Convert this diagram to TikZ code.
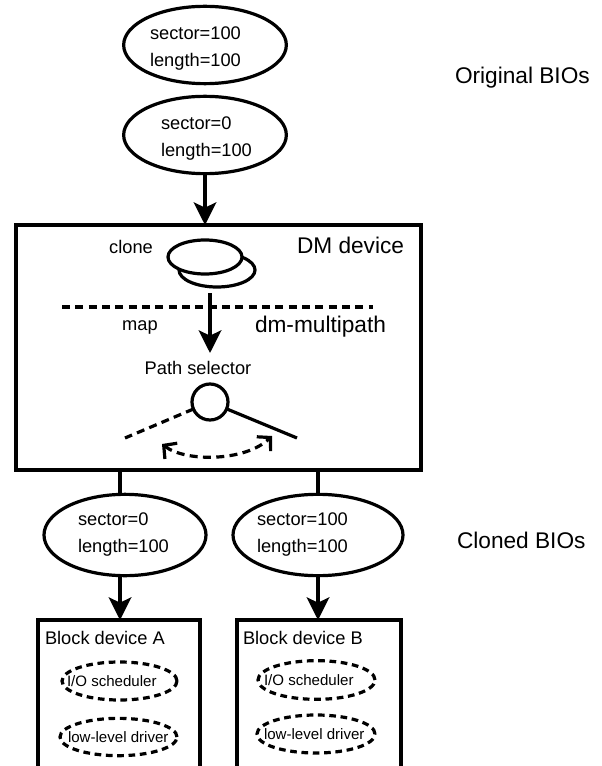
\documentclass[tikz,border=0pt]{standalone}
\usepackage{fontspec}
\setmainfont{Liberation Sans}
\usetikzlibrary{arrows.meta,shapes.geometric}
\begin{document}
\begin{tikzpicture}[x=0.75pt,y=-0.75pt,
  every node/.style={inner sep=0pt, outer sep=0pt},
  thick2/.style={line width=2.4pt},
  bio/.style={draw, thick2, ellipse},
  txt/.style={font=\fontsize{13.7}{20.25}\selectfont, align=left},
  bigtxt/.style={font=\fontsize{17}{20}\selectfont},
  smalltxt/.style={font=\fontsize{11.3}{13}\selectfont},
  arr/.style={thick2, -{Stealth[length=17pt, width=17pt, inset=4pt]}},
  dline/.style={thick2, dash pattern=on 6pt off 4pt},
  dell/.style={draw, ellipse, thick2, dash pattern=on 5pt off 3.5pt},
  box/.style={draw, thick2, rectangle},
  barb/.style={thick2, dash pattern=on 6pt off 4pt, {Straight Barb[length=7pt, width=15pt]}-{Straight Barb[length=7pt, width=15pt]}}
]
\useasboundingbox (0,0) rectangle (602,766);

% original BIOs
\node[bio, minimum width=122pt, minimum height=58pt] (o1) at (205,45) {};
\node[txt, anchor=west] (o1t) at (150,49) {sector=100\\length=100};
\node[bio, minimum width=122pt, minimum height=58pt] (o2) at (205,135) {};
\node[txt, anchor=west] (o2t) at (161,139) {sector=0\\length=100};
\node[bigtxt, anchor=west] (orig) at (455,78) {Original BIOs};

% DM device
\node[box, minimum width=303.75pt, minimum height=183.75pt] (dm) at (218.5,347.5) {};
\draw[arr] (o2.south) -- (o2.south |- dm.north);
\node[bigtxt, anchor=west] (dmlab) at (297,245) {DM device};
\node[bigtxt, anchor=west] (mplab) at (255,327) {dm-multipath};
\node[txt, anchor=center] (clonelab) at (131,247) {clone};
\node[txt, anchor=center] (maplab) at (140,327) {map};
\node[txt, anchor=center] (pslab) at (198,368) {Path selector};

\node[bio, minimum width=57pt, minimum height=25.5pt] (cloneB) at (217,270) {};
\node[bio, fill=white, minimum width=55.5pt, minimum height=25.5pt] (cloneF) at (205,257) {};

\coordinate (dl1) at (62,307);
\coordinate (dl2) at (373,307);
\draw[dline] (dl1) -- (dl2);

\coordinate (ma) at (210,293);
\coordinate (mb) at (210,353);
\draw[arr] (ma) -- (mb);

\node[draw, thick2, circle, minimum size=27pt] (sel) at (210,402) {};
\coordinate (sr) at (297,438);
\coordinate (sl) at (125,438);
\draw[thick2] (sel) -- (sr);
\draw[dline] (sel) -- (sl);
\coordinate (ca) at (162,444);
\coordinate (cb) at (272,436);
\draw[barb] (ca) .. controls (185,462) and (245,462) .. (cb);

% cloned BIOs
\node[bio, minimum width=121.5pt, minimum height=61pt] (c1) at (125,535) {};
\node[txt, anchor=west] (c1t) at (78,535) {sector=0\\length=100};
\node[bio, minimum width=127.5pt, minimum height=61pt] (c2) at (318,535) {};
\node[txt, anchor=west] (c2t) at (257,535) {sector=100\\length=100};
\node[bigtxt, anchor=west] (clon) at (457,540) {Cloned BIOs};

\coordinate (c1top) at (120,495);
\coordinate (c1bot) at (120,575);
\coordinate (c2top) at (318,495);
\coordinate (c2bot) at (318,575);
\draw[thick2] (c1top |- dm.south) -- (c1top);
\draw[thick2] (c2top |- dm.south) -- (c2top);

% block devices
\node[box, minimum width=121.5pt, minimum height=120pt] (ba) at (119,700) {};
\node[box, minimum width=123pt, minimum height=120pt] (bb) at (319,700) {};
\draw[arr] (c1bot) -- (c1bot |- ba.north);
\draw[arr] (c2bot) -- (c2bot |- bb.north);
\node[txt, anchor=west] (bat) at (45,638) {Block device A};
\node[txt, anchor=west] (bbt) at (243,638) {Block device B};

\node[dell, minimum width=86.25pt, minimum height=28.5pt] (ioa) at (119.5,681) {};
\node[smalltxt, anchor=west] (ioat) at (67,681) {I/O scheduler};
\node[dell, minimum width=87.75pt, minimum height=28pt] (lla) at (118.5,737) {};
\node[smalltxt, anchor=west] (llat) at (68,737) {low-level driver};
\node[dell, minimum width=87.75pt, minimum height=29pt] (iob) at (316.5,680) {};
\node[smalltxt, anchor=west] (iobt) at (264,680) {I/O scheduler};
\node[dell, minimum width=88.5pt, minimum height=28.5pt] (llb) at (316,734) {};
\node[smalltxt, anchor=west] (llbt) at (264,734) {low-level driver};
\end{tikzpicture}
\end{document}
